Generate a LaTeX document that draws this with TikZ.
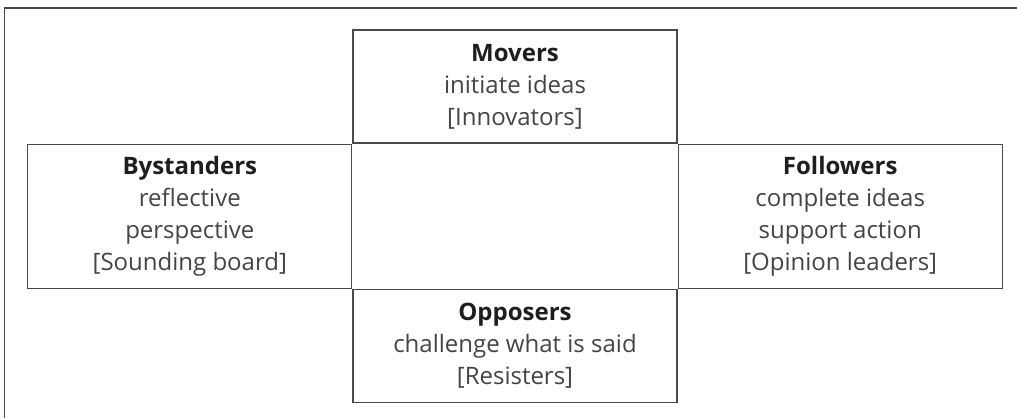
\documentclass[tikz,border=0pt]{standalone}
\usepackage{fontspec}
\setmainfont{Open Sans}
\usetikzlibrary{positioning}

\definecolor{edgegray}{HTML}{4A4A4A}
\definecolor{bodytext}{HTML}{444444}
\definecolor{headtext}{HTML}{1E1E1E}

\newcommand{\rolehead}[1]{{\color{headtext}\bfseries #1}}

\begin{document}
\begin{tikzpicture}[x=0.5pt,y=-0.5pt,
  role/.style={draw=edgegray, line width=0.6pt, align=center, inner sep=0pt,
    text=bodytext, font=\fontsize{12}{16}\selectfont},
  side/.style={role, minimum width=162pt, minimum height=72pt},
  mid/.style={role, minimum width=162pt, minimum height=56.5pt}]

\useasboundingbox (0,0) rectangle (1017,418);

% page frame, cut off on the right and at the bottom
\draw[edgegray, line width=0.6pt] (4.5,418) |- (1017,8);

% the four roles around an empty centre
\node[mid] (movers) at (515,86.5)
  {\rolehead{Movers}\\initiate ideas\\{[Innovators]}};
\node[side, anchor=north east] (bystanders) at (movers.south west)
  {\rolehead{Bystanders}\\reflective\\perspective\\{[Sounding board]}};
\node[side, anchor=north west] (followers) at (movers.south east)
  {\rolehead{Followers}\\complete ideas\\support action\\{[Opinion leaders]}};
\node[mid, anchor=north] (opposers) at (movers.south |- bystanders.south)
  {\rolehead{Opposers}\\challenge what is said\\{[Resisters]}};

\end{tikzpicture}
\end{document}
